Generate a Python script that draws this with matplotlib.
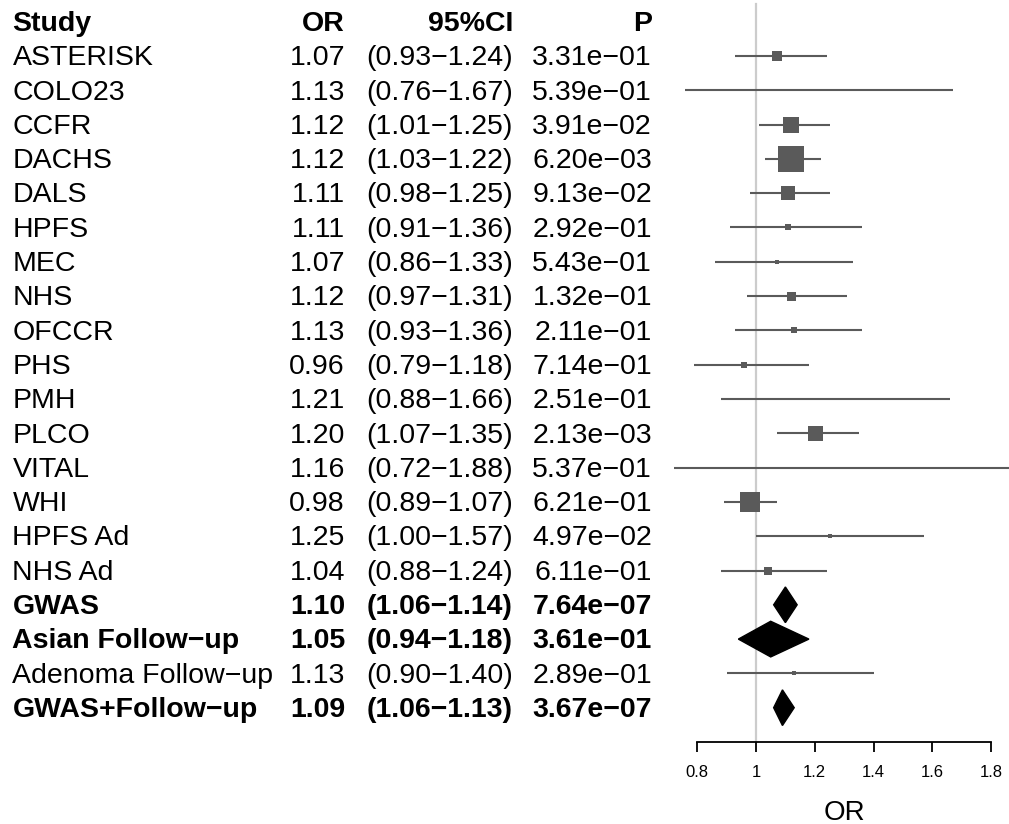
import numpy as np
import matplotlib
matplotlib.use("Agg")
import matplotlib.pyplot as plt
from matplotlib.patches import Polygon
from matplotlib.transforms import blended_transform_factory

plt.rcParams['font.family'] = ['Liberation Sans', 'DejaVu Sans']

# ---------------------------------------------------------------- data
studies = ["ASTERISK", "COLO23", "CCFR", "DACHS", "DALS", "HPFS", "MEC", "NHS",
           "OFCCR", "PHS", "PMH", "PLCO", "VITAL", "WHI", "HPFS Ad", "NHS Ad",
           "GWAS", "Asian Follow\u2212up", "Adenoma Follow\u2212up", "GWAS+Follow\u2212up"]
or_vals = [1.07, 1.13, 1.12, 1.12, 1.11, 1.11, 1.07, 1.12, 1.13, 0.96, 1.21, 1.20,
           1.16, 0.98, 1.25, 1.04, 1.10, 1.05, 1.13, 1.09]
ci_lo = [0.93, 0.76, 1.01, 1.03, 0.98, 0.91, 0.86, 0.97, 0.93, 0.79, 0.88, 1.07,
         0.72, 0.89, 1.00, 0.88, 1.06, 0.94, 0.90, 1.06]
ci_hi = [1.24, 1.67, 1.25, 1.22, 1.25, 1.36, 1.33, 1.31, 1.36, 1.18, 1.66, 1.35,
         1.88, 1.07, 1.57, 1.24, 1.14, 1.18, 1.40, 1.13]
pvals = [3.31e-01, 5.39e-01, 3.91e-02, 6.20e-03, 9.13e-02, 2.92e-01, 5.43e-01,
         1.32e-01, 2.11e-01, 7.14e-01, 2.51e-01, 2.13e-03, 5.37e-01, 6.21e-01,
         4.97e-02, 6.11e-01, 7.64e-07, 3.61e-01, 2.89e-01, 3.67e-07]
# relative study weight (box size)
weights = [10.5, 2, 16, 27, 14, 6, 5, 9, 6, 6, 2, 15, 2, 20.5, 5, 7.5, 0, 0, 5, 0]
summary = [False] * 16 + [True, True, False, True]

xticks = [0.8, 1.0, 1.2, 1.4, 1.6, 1.8]

# ---------------------------------------------------------------- layout
W, H = 1009, 824
fig = plt.figure(figsize=(W / 100, H / 100), dpi=100)

row0_px = 21.7
row_px = 34.3
axis_px = 742
x1_px = 756.0
unit_px = 294.0

ax_left, ax_right = 660, 1009
ax = fig.add_axes([ax_left / W, 1 - axis_px / H, (ax_right - ax_left) / W, axis_px / H])
ax.set_xlim(1 + (ax_left - x1_px) / unit_px, 1 + (ax_right - x1_px) / unit_px)
ax.set_ylim((axis_px - row0_px) / row_px, -row0_px / row_px)

n = len(studies)
rows = np.arange(1, n + 1)

# reference line at OR = 1
ax.plot([1, 1], [-0.51, (axis_px - row0_px) / row_px], color='#cccccc', lw=1.6,
        zorder=1, clip_on=False)

grey = '#5a5a5a'
for i in range(n):
    y = rows[i]
    if summary[i]:
        h = 0.52
        poly = Polygon([(ci_lo[i], y), (or_vals[i], y - h), (ci_hi[i], y),
                        (or_vals[i], y + h)], closed=True, color='black', zorder=3)
        ax.add_patch(poly)
    else:
        ax.plot([ci_lo[i], ci_hi[i]], [y, y], color=grey, lw=1.5, zorder=2,
                solid_capstyle='butt')
        ax.plot(or_vals[i], y, marker='s', color=grey, markersize=weights[i] * 0.72,
                markeredgewidth=0, zorder=3)

for s in ['left', 'top', 'right']:
    ax.spines[s].set_visible(False)
ax.spines['bottom'].set_bounds(xticks[0], xticks[-1])
ax.spines['bottom'].set_linewidth(1.3)
ax.set_yticks([])
ax.set_xticks(xticks)
ax.set_xticklabels(['%g' % t for t in xticks])
ax.tick_params(axis='x', direction='out', length=7.5, width=1.3, pad=9, labelsize=12)
ax.patch.set_visible(False)

fig.text(844 / W, 1 - 813 / H, "OR", fontsize=20, ha='center', va='center')

# ---------------------------------------------------------------- text table
tr = blended_transform_factory(fig.transFigure, ax.transData)
fs = 20.5
base = 0.27
col_study = 12.5 / W
col_or = 345 / W
col_ci = 513 / W
col_p = 652 / W

ax.text(col_study, 0 + base, "Study", transform=tr, fontsize=fs, fontweight='bold',
        ha='left', va='baseline', clip_on=False)
ax.text(col_or, 0 + base, "OR", transform=tr, fontsize=fs, fontweight='bold',
        ha='right', va='baseline', clip_on=False)
ax.text(col_ci, 0 + base, "95%CI", transform=tr, fontsize=fs, fontweight='bold',
        ha='right', va='baseline', clip_on=False)
ax.text(col_p, 0 + base, "P", transform=tr, fontsize=fs, fontweight='bold',
        ha='right', va='baseline', clip_on=False)

for i in range(n):
    y = rows[i] + base
    fw = 'bold' if summary[i] else 'normal'
    or_s = "%.2f" % or_vals[i]
    ci_s = "(%.2f\u2212%.2f)" % (ci_lo[i], ci_hi[i])
    p_s = ("%.2e" % pvals[i]).replace('-', '\u2212')
    ax.text(col_study, y, studies[i], transform=tr, fontsize=fs, fontweight=fw,
            ha='left', va='baseline', clip_on=False)
    ax.text(col_or, y, or_s, transform=tr, fontsize=fs, fontweight=fw,
            ha='right', va='baseline', clip_on=False)
    ax.text(col_ci, y, ci_s, transform=tr, fontsize=fs, fontweight=fw,
            ha='right', va='baseline', clip_on=False)
    ax.text(col_p, y, p_s, transform=tr, fontsize=fs, fontweight=fw,
            ha='right', va='baseline', clip_on=False)

fig.savefig("out.png", dpi=100)
